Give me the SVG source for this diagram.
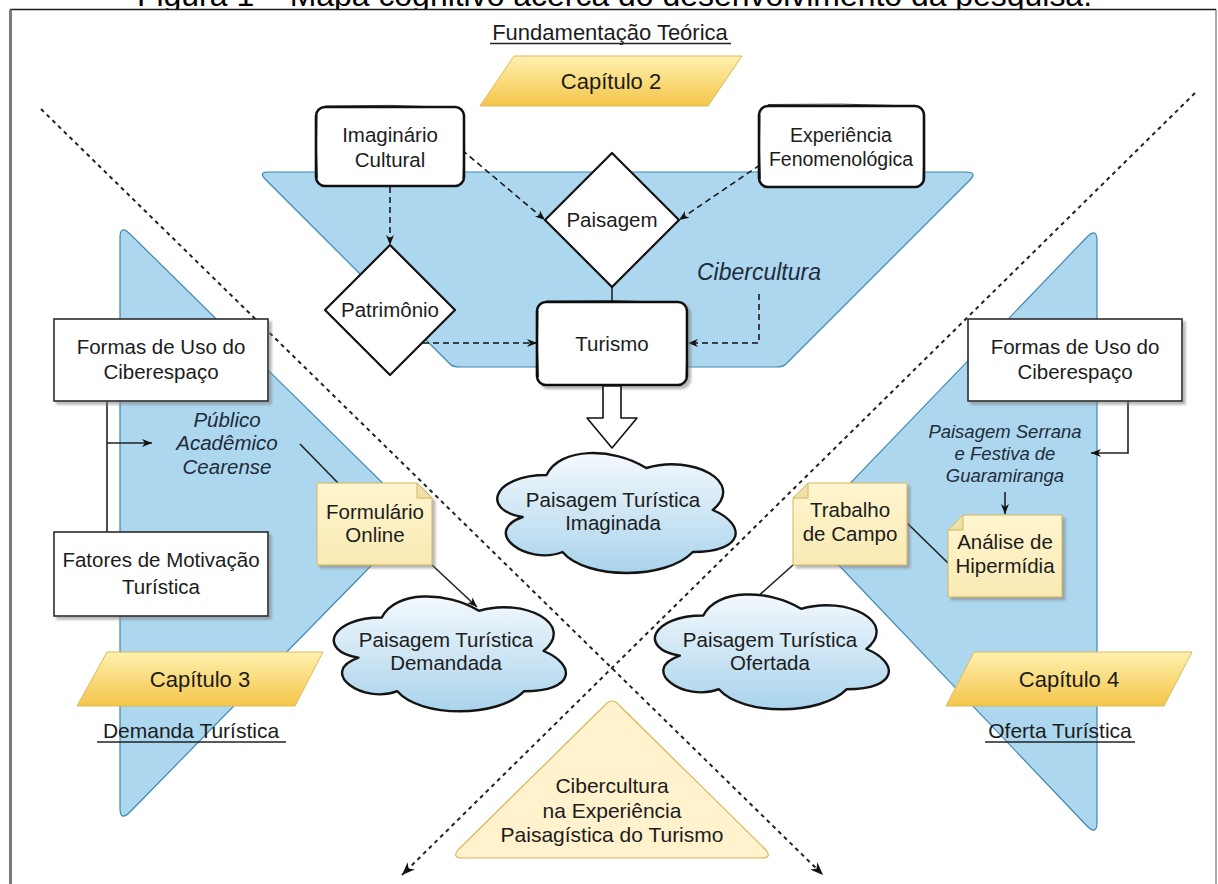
<svg xmlns="http://www.w3.org/2000/svg" width="1218" height="884" viewBox="0 0 1218 884">
  <style>
    text { font-family: "Liberation Sans", Arial, sans-serif; fill: #1c1c1c; text-anchor: middle; }
    .t20 { font-size: 20.5px; }
    .t19 { font-size: 19.5px; }
    .t21 { font-size: 21px; }
    .cl { font-size: 20.5px; }
    .cap { font-size: 22px; }
    .it { font-style: italic; fill: #1f2b3a; }
    .blue { fill: #acd7ee; stroke: #3d87b3; stroke-width: 1.2; stroke-linejoin: round; }
    .sk { fill: #ffffff; stroke: #111111; stroke-width: 2.6; }
    .sk2 { fill: none; stroke: #111111; stroke-width: 1; opacity: 0.8; }
    .dia { fill: #ffffff; stroke: #111111; stroke-width: 2.2; stroke-linejoin: round; }
    .box { fill: #ffffff; stroke: #2a2a2a; stroke-width: 1.6; filter: url(#shadow); }
    .note { fill: url(#noteFill); stroke: #d2b65a; stroke-width: 1; filter: url(#shadow); }
    .fold { fill: #efe0a8; stroke: #d2b65a; stroke-width: 1; }
    .para { fill: url(#gold); stroke: #d9bc5c; stroke-width: 1; }
    .cloud { stroke: #141414; stroke-width: 2.4; stroke-linejoin: round; }
    .dash { fill: none; stroke: #111111; stroke-width: 1.5; stroke-dasharray: 6 4; }
    .solid { fill: none; stroke: #222222; stroke-width: 1.6; }
    .diag { fill: none; stroke: #222222; stroke-width: 2; stroke-dasharray: 4 4; }
    .ul { stroke: #222222; stroke-width: 1.4; }
  </style>
  <defs>
    <linearGradient id="gold" x1="0" y1="0" x2="0" y2="1">
      <stop offset="0" stop-color="#fff1b0"/>
      <stop offset="1" stop-color="#f4c54a"/>
    </linearGradient>
    <linearGradient id="noteFill" x1="0" y1="0" x2="0" y2="1">
      <stop offset="0" stop-color="#fff5cf"/>
      <stop offset="1" stop-color="#f9eab4"/>
    </linearGradient>
    <linearGradient id="cloudFill" x1="0" y1="0" x2="0" y2="1">
      <stop offset="0" stop-color="#f4f9fd"/>
      <stop offset="1" stop-color="#a9d3ec"/>
    </linearGradient>
    <filter id="shadow" x="-10%" y="-10%" width="130%" height="130%">
      <feDropShadow dx="3" dy="3" stdDeviation="1.2" flood-color="#808080" flood-opacity="0.55"/>
    </filter>
    <marker id="arr" viewBox="0 0 10 10" refX="10" refY="5" markerWidth="10" markerHeight="10" markerUnits="userSpaceOnUse" orient="auto">
      <path d="M0,1 L10,5 L0,9 L3,5 Z" fill="#111111"/>
    </marker>
    <marker id="arrBig" viewBox="0 0 10 10" refX="10" refY="5" markerWidth="13" markerHeight="13" markerUnits="userSpaceOnUse" orient="auto">
      <path d="M0,1 L10,5 L0,9 L3,5 Z" fill="#111111"/>
    </marker>
  </defs>

  <!-- caption line above the frame (cut by the frame) -->
  <text x="137" y="6" font-size="32" textLength="955" lengthAdjust="spacingAndGlyphs" style="text-anchor:start;fill:#000">Figura 1 – Mapa cognitivo acerca do desenvolvimento da pesquisa.</text>
  <rect x="0" y="9.5" width="1218" height="875" fill="#ffffff"/>

  <!-- frame -->
  <line x1="10" y1="9.5" x2="1216" y2="9.5" stroke="#1a1a1a" stroke-width="1.6"/>
  <line x1="10.5" y1="9.5" x2="10.5" y2="884" stroke="#7a7a7a" stroke-width="3"/>
  <line x1="1216" y1="9.5" x2="1216" y2="884" stroke="#555555" stroke-width="1"/>

  <!-- background regions -->
  <g id="region-top">
    <path class="blue" d="M268,172 H965 Q978,172 970,180 L786,364 Q783,367 776,367 H460 Q453,367 450,364 L266,180 Q258,172 268,172 Z"/>
  </g>
  <g id="region-left">
    <path class="blue" d="M120,238 Q120,224 130,234 L412,512 Q418,518 412,524 L130,812 Q120,822 120,808 Z"/>
  </g>
  <g id="region-right">
    <path class="blue" d="M1097,241 Q1097,227 1087,237 L811,524 Q805,530 811,536 L1087,826 Q1097,836 1097,822 Z"/>
  </g>
  <g id="region-bottom">
    <path d="M604,706 Q612,696 620,706 L766,850 Q772,858 762,858 H462 Q452,858 458,850 Z" fill="#fff2cc" stroke="#d6b656" stroke-width="1.2"/>
    <text class="t21" x="612" y="793">Cibercultura</text>
    <text class="t21" x="612" y="818">na Experiência</text>
    <text class="t21" x="612" y="842">Paisagística do Turismo</text>
  </g>

  <!-- quadrant dividers -->
  <g id="dividers">
    <line class="diag" x1="41" y1="109" x2="823" y2="875" marker-end="url(#arrBig)"/>
    <line class="diag" x1="1195" y1="93" x2="402" y2="875" marker-end="url(#arrBig)"/>
  </g>

  <!-- connectors -->
  <g id="connectors">
    <line class="dash" x1="390" y1="187" x2="390" y2="245" marker-end="url(#arr)"/>
    <line class="dash" x1="462" y1="150" x2="545" y2="220" marker-end="url(#arr)"/>
    <line class="dash" x1="760" y1="165" x2="679" y2="220" marker-end="url(#arr)"/>
    <line class="dash" x1="423" y1="343" x2="537" y2="343" marker-end="url(#arr)"/>
    <path class="dash" d="M759,294 V343 H688" marker-end="url(#arr)"/>
    <line x1="612" y1="287" x2="612" y2="302" stroke="#111" stroke-width="1.4"/>
    <line class="solid" x1="107" y1="401" x2="107" y2="532" stroke="#444"/>
    <line class="solid" x1="107" y1="443" x2="152" y2="443" marker-end="url(#arr)"/>
    <line class="solid" x1="300" y1="444" x2="338" y2="483"/>
    <line class="solid" x1="432" y1="565" x2="477" y2="607" marker-end="url(#arr)"/>
    <path class="solid" d="M1128,401 V453 H1091" marker-end="url(#arr)"/>
    <line class="solid" x1="1005" y1="492" x2="1005" y2="514" marker-end="url(#arr)"/>
    <line class="solid" x1="907" y1="523" x2="948" y2="563"/>
    <line class="solid" x1="793" y1="565" x2="746" y2="607" marker-end="url(#arr)"/>
  </g>

  <!-- top section -->
  <g id="titulo-fundamentacao">
    <text x="610" y="40" font-size="22">Fundamentação Teórica</text>
    <line class="ul" x1="490" y1="43.5" x2="731" y2="43.5"/>
  </g>
  <g id="capitulo-2">
    <path class="para" d="M514,56 H742 L708,106 H480 Z"/>
    <text class="cap" x="611" y="89">Capítulo 2</text>
  </g>
  <g id="imaginario-cultural">
    <rect class="sk" x="316" y="107" width="148" height="79" rx="9"/>
    <path class="sk2" d="M325,106 Q390,104 456,107.5 M463.5,116 Q465,147 463,178 M317,115 Q315.5,148 317.5,178"/>
    <text class="t20" x="390" y="142">Imaginário</text>
    <text class="t20" x="390" y="167">Cultural</text>
  </g>
  <g id="experiencia-fenomenologica">
    <rect class="sk" x="759" y="106" width="165" height="81" rx="9"/>
    <path class="sk2" d="M768,104.5 Q841,103 916,106 M923.5,115 Q925,147 923,179 M760,115 Q758.5,148 760.5,179"/>
    <text class="t19" x="841" y="142">Experiência</text>
    <text class="t19" x="841" y="166">Fenomenológica</text>
  </g>
  <g id="paisagem">
    <path class="dia" d="M612,153 L679,220 L612,287 L545,220 Z"/>
    <text class="t20" x="612" y="227">Paisagem</text>
  </g>
  <g id="patrimonio">
    <path class="dia" d="M390,245 L455,310 L390,375 L325,310 Z"/>
    <text class="t20" x="390" y="317">Patrimônio</text>
  </g>
  <g id="cibercultura">
    <text class="it" font-size="23" x="759" y="280">Cibercultura</text>
  </g>
  <g id="turismo">
    <rect class="sk" x="537" y="302" width="150" height="83" rx="9" filter="url(#shadow)"/>
    <path class="sk2" d="M546,301 Q612,299.5 679,302.5 M686.5,311 Q688,343 686,377 M538,311 Q536.5,343 538.5,377"/>
    <text class="t20" x="612" y="351">Turismo</text>
  </g>
  <g id="seta-imaginada">
    <path d="M603,386 H621 V418 H637 L612,448 L587,418 H603 Z" fill="#ffffff" stroke="#111" stroke-width="1.6" stroke-linejoin="round"/>
  </g>
  <g id="paisagem-imaginada">
    <path class="cloud" fill="url(#cloudFill)" d="M546.5,475 C493.3,475 480,510 522.6,517 C480,532.4 527.9,566 562.5,552 C586.4,580 666.2,580 692.8,552 C746,552 746,524 712.8,510 C746,482 692.8,454 646.3,468 C613,447 559.8,447 546.5,475 Z"/>
    <text class="cl" x="613" y="507">Paisagem Turística</text>
    <text class="cl" x="613" y="530">Imaginada</text>
  </g>

  <!-- left section -->
  <g id="formas-uso-esquerda">
    <rect class="box" x="54" y="319" width="214" height="82"/>
    <text class="t20" x="161" y="354">Formas de Uso do</text>
    <text class="t20" x="161" y="379">Ciberespaço</text>
  </g>
  <g id="publico-academico">
    <text class="t20 it" x="227" y="427">Público</text>
    <text class="t20 it" x="227" y="450">Acadêmico</text>
    <text class="t20 it" x="227" y="474">Cearense</text>
  </g>
  <g id="fatores-motivacao">
    <rect class="box" x="54" y="532" width="214" height="84"/>
    <text class="t20" x="161" y="567">Fatores de Motivação</text>
    <text class="t20" x="161" y="594">Turística</text>
  </g>
  <g id="formulario-online">
    <path class="note" d="M317,483 H417 L432,498 V565 H317 Z"/>
    <path class="fold" d="M417,483 V498 H432 Z"/>
    <text class="t20" x="375" y="519">Formulário</text>
    <text class="t20" x="375" y="542">Online</text>
  </g>
  <g id="paisagem-demandada">
    <path class="cloud" fill="url(#cloudFill)" d="M381.8,617.5 C330,617.5 317,651 358.4,657.7 C317,672.4 363.6,704.6 397.3,691.2 C420.6,718 498.3,718 524.2,691.2 C576,691.2 576,664.4 543.6,651 C576,624.2 524.2,597.4 478.9,610.8 C446.5,590.7 394.7,590.7 381.8,617.5 Z"/>
    <text class="cl" x="446" y="647">Paisagem Turística</text>
    <text class="cl" x="446" y="670">Demandada</text>
  </g>
  <g id="capitulo-3">
    <path class="para" d="M107,652 H323 L295,706 H77 Z"/>
    <text class="cap" x="200" y="687">Capítulo 3</text>
  </g>
  <g id="demanda-turistica">
    <text class="t21" x="191" y="738">Demanda Turística</text>
    <line class="ul" x1="97" y1="742" x2="286" y2="742"/>
  </g>

  <!-- right section -->
  <g id="formas-uso-direita">
    <rect class="box" x="968" y="319" width="214" height="82"/>
    <text class="t20" x="1075" y="354">Formas de Uso do</text>
    <text class="t20" x="1075" y="379">Ciberespaço</text>
  </g>
  <g id="paisagem-serrana">
    <text class="it" font-size="18.5" x="1005" y="438">Paisagem Serrana</text>
    <text class="it" font-size="18.5" x="1005" y="460">e Festiva de</text>
    <text class="it" font-size="18.5" x="1005" y="482">Guaramiranga</text>
  </g>
  <g id="trabalho-campo">
    <path class="note" d="M808,483 H907 V565 H793 V498 Z"/>
    <path class="fold" d="M808,483 V498 H793 Z"/>
    <text class="t20" x="850" y="517">Trabalho</text>
    <text class="t20" x="850" y="541">de Campo</text>
  </g>
  <g id="analise-hipermidia">
    <path class="note" d="M963,515 H1062 V597 H948 V530 Z"/>
    <path class="fold" d="M963,515 V530 H948 Z"/>
    <text class="t20" x="1005" y="549">Análise de</text>
    <text class="t20" x="1005" y="573">Hipermídia</text>
  </g>
  <g id="paisagem-ofertada">
    <path class="cloud" fill="url(#cloudFill)" d="M703.3,615.5 C651,615.5 638,649 679.8,655.7 C638,670.4 685,702.6 718.9,689.2 C742.4,716 820.7,716 846.8,689.2 C899,689.2 899,662.4 866.4,649 C899,622.2 846.8,595.4 801.1,608.8 C768.5,588.7 716.3,588.7 703.3,615.5 Z"/>
    <text class="cl" x="770" y="647">Paisagem Turística</text>
    <text class="cl" x="770" y="670">Ofertada</text>
  </g>
  <g id="capitulo-4">
    <path class="para" d="M974,652 H1192 L1164,706 H946 Z"/>
    <text class="cap" x="1069" y="687">Capítulo 4</text>
  </g>
  <g id="oferta-turistica">
    <text class="t21" x="1060" y="738">Oferta Turística</text>
    <line class="ul" x1="985" y1="742" x2="1135" y2="742"/>
  </g>
</svg>
